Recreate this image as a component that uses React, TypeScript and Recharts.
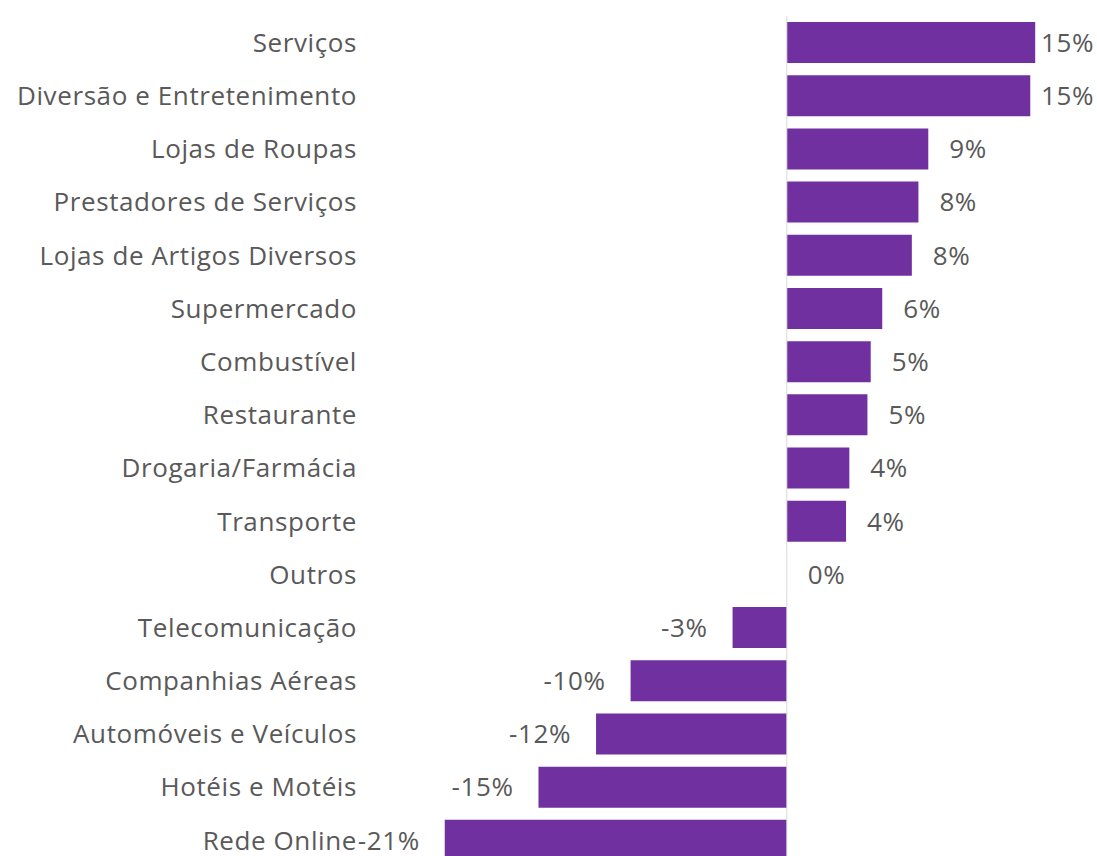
import { BarChart, Bar, XAxis, YAxis, LabelList, ReferenceLine } from 'recharts'

const categories = [
  'Serviços',
  'Diversão e Entretenimento',
  'Lojas de Roupas',
  'Prestadores de Serviços',
  'Lojas de Artigos Diversos',
  'Supermercado',
  'Combustível',
  'Restaurante',
  'Drogaria/Farmácia',
  'Transporte',
  'Outros',
  'Telecomunicação',
  'Companhias Aéreas',
  'Automóveis e Veículos',
  'Hotéis e Motéis',
  'Rede Online',
]

const variation = [15.1, 14.8, 8.6, 8.0, 7.6, 5.8, 5.1, 4.9, 3.8, 3.6, 0, -3.3, -9.5, -11.6, -15.1, -20.8]

const data = categories.map((name, i) => ({ name, value: variation[i] }))

const FONT = "'Open Sans', sans-serif"
const TEXT = '#595959'
const SIZE = 26
const SPACING = 0.6

// excel rounds half away from zero
const pct = (v: number) => `${Math.sign(v) * Math.round(Math.abs(v))}%`

const ValueLabel = (props: any) => {
  const { x, y, width, height, value } = props
  const left = Math.min(x, x + width)
  const right = Math.max(x, x + width)
  const cy = y + height / 2
  const common = { y: cy, dy: '0.36em', fill: TEXT, fontFamily: FONT, fontSize: SIZE, letterSpacing: SPACING }
  if (value < 0) {
    return (
      <text x={left - 25} textAnchor="end" {...common}>
        {pct(value)}
      </text>
    )
  }
  // keep labels inside the chart area like excel does
  const tooFar = right + 20 + 50 > 1094
  return (
    <text x={tooFar ? 1094 : right + 21} textAnchor={tooFar ? 'end' : 'start'} {...common}>
      {pct(value)}
    </text>
  )
}

export default function App() {
  return (
    <div style={{ position: 'fixed', top: 0, left: 0, width: 1097, height: 856, overflow: 'hidden', background: '#fff' }}>
      <BarChart
        layout="vertical"
        width={1097}
        height={880}
        data={data}
        margin={{ top: 16, right: 47, bottom: 13, left: 0 }}
      >
        <XAxis type="number" domain={[-22, 16]} hide />
        <YAxis
          type="category"
          dataKey="name"
          width={425}
          axisLine={false}
          tickLine={false}
          tickMargin={62}
          interval={0}
          tick={{ fill: TEXT, fontFamily: FONT, fontSize: SIZE, letterSpacing: SPACING }}
        />
        <ReferenceLine x={0} stroke="#d9d9d9" />
        <Bar
          dataKey="value"
          fill="#7030A0"
          barSize={41}
          minPointSize={(v: number) => (v === 0 ? 0.01 : 0)}
          isAnimationActive={false}
        >
          <LabelList dataKey="value" content={ValueLabel} />
        </Bar>
      </BarChart>
    </div>
  )
}
